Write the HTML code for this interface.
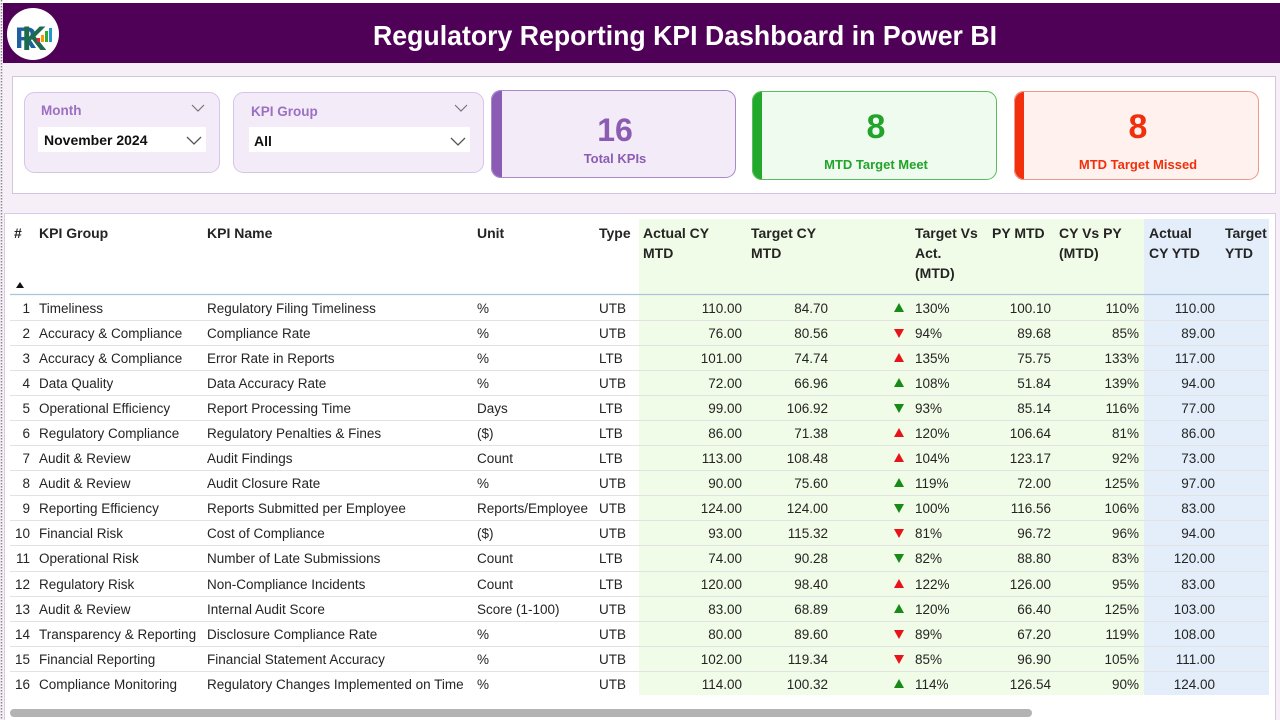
<!DOCTYPE html>
<html><head><meta charset="utf-8">
<style>
html,body{margin:0;padding:0;width:1280px;height:720px;overflow:hidden;background:#fff;}
svg{display:block;}
text{font-family:"Liberation Sans",Arial,sans-serif;}
.h{font-size:14px;font-weight:bold;fill:#252423;}
.b{font-size:13.5px;fill:#252423;}
</style></head><body>
<svg width="1280" height="720" viewBox="0 0 1280 720" xmlns="http://www.w3.org/2000/svg">
<rect x="0" y="0" width="1280" height="720" fill="#f6eff8"/>
<rect x="0" y="0" width="1280" height="3" fill="#ffffff"/>
<line x1="1.5" y1="0" x2="1.5" y2="720" stroke="#8a8a8a" stroke-width="1.5" stroke-dasharray="1.5,1.5"/>
<!-- header -->
<rect x="3" y="3" width="1277" height="60" fill="#4f0158"/>
<circle cx="33" cy="34" r="26" fill="#ffffff"/>
<text x="15" y="48" font-size="30" font-weight="bold" fill="#1f5fa0" font-family="Liberation Serif,serif">R</text>
<text x="22" y="50" font-size="34" font-weight="bold" fill="#1d6b4a" font-family="Liberation Serif,serif">K</text>
<rect x="37" y="38" width="3" height="4" fill="#e23"/><rect x="41" y="35" width="3" height="7" fill="#f90"/><rect x="45" y="31" width="3" height="11" fill="#3a3"/><rect x="49" y="28" width="3" height="14" fill="#29c"/>
<text x="373" y="45" font-size="28" font-weight="bold" fill="#ffffff" textLength="624" lengthAdjust="spacingAndGlyphs">Regulatory Reporting KPI Dashboard in Power BI</text>

<!-- filter panel -->
<rect x="12.5" y="76.5" width="1263" height="117" fill="#ffffff" stroke="#d6c3e2" stroke-width="1"/>
<!-- Month slicer -->
<rect x="24.5" y="92.5" width="195" height="80" rx="10" fill="#f3ebf8" stroke="#d7c4e6"/>
<text x="41" y="115" font-size="13.5" font-weight="bold" fill="#9b70c2">Month</text>
<polyline points="192,105 198,111 204,105" fill="none" stroke="#777" stroke-width="1.2"/>
<rect x="38" y="127" width="168" height="25" fill="#ffffff"/>
<text x="44" y="145" font-size="14" font-weight="bold" fill="#111">November 2024</text>
<polyline points="187,137 194,144 201,137" fill="none" stroke="#555" stroke-width="1.3"/>
<!-- KPI Group slicer -->
<rect x="233.5" y="92.5" width="250" height="80" rx="10" fill="#f3ebf8" stroke="#d7c4e6"/>
<text x="251" y="116" font-size="13.5" font-weight="bold" fill="#9b70c2">KPI Group</text>
<polyline points="455,105 461,111 467,105" fill="none" stroke="#777" stroke-width="1.2"/>
<rect x="249" y="127" width="221" height="25" fill="#ffffff"/>
<text x="254" y="146" font-size="14" font-weight="bold" fill="#111">All</text>
<polyline points="451,138 458,145 465,138" fill="none" stroke="#555" stroke-width="1.3"/>

<!-- Card 1 -->
<clipPath id="c1"><rect x="491" y="90" width="245" height="88" rx="10"/></clipPath>
<g clip-path="url(#c1)"><rect x="491" y="90" width="245" height="88" fill="#f3ecf8"/><rect x="491" y="90" width="11" height="88" fill="#8b5cb5"/></g>
<rect x="491.5" y="90.5" width="244" height="87" rx="10" fill="none" stroke="#a98ac8"/>
<text x="615" y="141" font-size="32" font-weight="bold" fill="#8a5db2" text-anchor="middle">16</text>
<text x="615" y="163" font-size="13" font-weight="bold" fill="#8a5db2" text-anchor="middle">Total KPIs</text>
<!-- Card 2 -->
<clipPath id="c2"><rect x="752" y="91" width="245" height="89" rx="10"/></clipPath>
<g clip-path="url(#c2)"><rect x="752" y="91" width="245" height="89" fill="#effbee"/><rect x="752" y="91" width="10" height="89" fill="#22a82a"/></g>
<rect x="752.5" y="91.5" width="244" height="88" rx="10" fill="none" stroke="#5dbb5f"/>
<text x="876" y="138" font-size="34" font-weight="bold" fill="#22a32a" text-anchor="middle">8</text>
<text x="876" y="169" font-size="13" font-weight="bold" fill="#22a32a" text-anchor="middle">MTD Target Meet</text>
<!-- Card 3 -->
<clipPath id="c3"><rect x="1014" y="91" width="245" height="89" rx="10"/></clipPath>
<g clip-path="url(#c3)"><rect x="1014" y="91" width="245" height="89" fill="#fff1ee"/><rect x="1014" y="91" width="10" height="89" fill="#f2300d"/></g>
<rect x="1014.5" y="91.5" width="244" height="88" rx="10" fill="none" stroke="#ec9a8b"/>
<text x="1138" y="138" font-size="34" font-weight="bold" fill="#f0300c" text-anchor="middle">8</text>
<text x="1138" y="169" font-size="13" font-weight="bold" fill="#f0300c" text-anchor="middle">MTD Target Missed</text>

<!-- table panel -->
<rect x="4.5" y="213.5" width="1271" height="510" fill="#ffffff" stroke="#dcc8e6"/>
<rect x="639" y="219" width="505" height="476" fill="#f0fbe8"/>
<rect x="1144" y="219" width="125" height="476" fill="#e3eefa"/>

<!-- headers -->
<g class="h">
<text x="14" y="238" class="h">#</text>
<text x="39" y="238" class="h">KPI Group</text>
<text x="207" y="238" class="h">KPI Name</text>
<text x="477" y="238" class="h">Unit</text>
<text x="599" y="238" class="h">Type</text>
<text x="643" y="238" class="h">Actual CY</text><text x="643" y="258" class="h">MTD</text>
<text x="751" y="238" class="h">Target CY</text><text x="751" y="258" class="h">MTD</text>
<text x="915" y="238" class="h">Target Vs</text><text x="915" y="258" class="h">Act.</text><text x="915" y="278" class="h">(MTD)</text>
<text x="992" y="238" class="h">PY MTD</text>
<text x="1059" y="238" class="h">CY Vs PY</text><text x="1059" y="258" class="h">(MTD)</text>
<text x="1149" y="238" class="h">Actual</text><text x="1149" y="258" class="h">CY YTD</text>
<text x="1225" y="238" class="h">Target</text><text x="1225" y="258" class="h">YTD</text>
</g>
<polygon points="16,288 24,288 20,282" fill="#111"/>
<line x1="10" y1="294.5" x2="1269" y2="294.5" stroke="#a9c6d8" stroke-width="1.2"/>

<!-- row separators -->
<g stroke="#e2e2e2" stroke-width="1">
<line x1="10" y1="320.5" x2="1269" y2="320.5"/>
<line x1="10" y1="345.5" x2="1269" y2="345.5"/>
<line x1="10" y1="370.5" x2="1269" y2="370.5"/>
<line x1="10" y1="395.5" x2="1269" y2="395.5"/>
<line x1="10" y1="420.5" x2="1269" y2="420.5"/>
<line x1="10" y1="445.5" x2="1269" y2="445.5"/>
<line x1="10" y1="470.5" x2="1269" y2="470.5"/>
<line x1="10" y1="495.5" x2="1269" y2="495.5"/>
<line x1="10" y1="520.5" x2="1269" y2="520.5"/>
<line x1="10" y1="545.5" x2="1269" y2="545.5"/>
<line x1="10" y1="571.5" x2="1269" y2="571.5"/>
<line x1="10" y1="596.5" x2="1269" y2="596.5"/>
<line x1="10" y1="621.5" x2="1269" y2="621.5"/>
<line x1="10" y1="646.5" x2="1269" y2="646.5"/>
<line x1="10" y1="671.5" x2="1269" y2="671.5"/>
</g>

<!-- rows -->
<g class="b">
<!-- 1 -->
<text x="30" y="313" text-anchor="end" class="b">1</text><text x="39" y="313" class="b">Timeliness</text><text x="207" y="313" class="b">Regulatory Filing Timeliness</text><text x="477" y="313" class="b">%</text><text x="599" y="313" class="b">UTB</text>
<text x="742" y="313" text-anchor="end" class="b">110.00</text><text x="828" y="313" text-anchor="end" class="b">84.70</text><text x="915" y="313" class="b">130%</text><text x="1051" y="313" text-anchor="end" class="b">100.10</text><text x="1139" y="313" text-anchor="end" class="b">110%</text><text x="1215" y="313" text-anchor="end" class="b">110.00</text>
<!-- 2 -->
<text x="30" y="338" text-anchor="end" class="b">2</text><text x="39" y="338" class="b">Accuracy &amp; Compliance</text><text x="207" y="338" class="b">Compliance Rate</text><text x="477" y="338" class="b">%</text><text x="599" y="338" class="b">UTB</text>
<text x="742" y="338" text-anchor="end" class="b">76.00</text><text x="828" y="338" text-anchor="end" class="b">80.56</text><text x="915" y="338" class="b">94%</text><text x="1051" y="338" text-anchor="end" class="b">89.68</text><text x="1139" y="338" text-anchor="end" class="b">85%</text><text x="1215" y="338" text-anchor="end" class="b">89.00</text>
<!-- 3 -->
<text x="30" y="363" text-anchor="end" class="b">3</text><text x="39" y="363" class="b">Accuracy &amp; Compliance</text><text x="207" y="363" class="b">Error Rate in Reports</text><text x="477" y="363" class="b">%</text><text x="599" y="363" class="b">LTB</text>
<text x="742" y="363" text-anchor="end" class="b">101.00</text><text x="828" y="363" text-anchor="end" class="b">74.74</text><text x="915" y="363" class="b">135%</text><text x="1051" y="363" text-anchor="end" class="b">75.75</text><text x="1139" y="363" text-anchor="end" class="b">133%</text><text x="1215" y="363" text-anchor="end" class="b">117.00</text>
<!-- 4 -->
<text x="30" y="388" text-anchor="end" class="b">4</text><text x="39" y="388" class="b">Data Quality</text><text x="207" y="388" class="b">Data Accuracy Rate</text><text x="477" y="388" class="b">%</text><text x="599" y="388" class="b">UTB</text>
<text x="742" y="388" text-anchor="end" class="b">72.00</text><text x="828" y="388" text-anchor="end" class="b">66.96</text><text x="915" y="388" class="b">108%</text><text x="1051" y="388" text-anchor="end" class="b">51.84</text><text x="1139" y="388" text-anchor="end" class="b">139%</text><text x="1215" y="388" text-anchor="end" class="b">94.00</text>
<!-- 5 -->
<text x="30" y="413" text-anchor="end" class="b">5</text><text x="39" y="413" class="b">Operational Efficiency</text><text x="207" y="413" class="b">Report Processing Time</text><text x="477" y="413" class="b">Days</text><text x="599" y="413" class="b">LTB</text>
<text x="742" y="413" text-anchor="end" class="b">99.00</text><text x="828" y="413" text-anchor="end" class="b">106.92</text><text x="915" y="413" class="b">93%</text><text x="1051" y="413" text-anchor="end" class="b">85.14</text><text x="1139" y="413" text-anchor="end" class="b">116%</text><text x="1215" y="413" text-anchor="end" class="b">77.00</text>
<!-- 6 -->
<text x="30" y="438" text-anchor="end" class="b">6</text><text x="39" y="438" class="b">Regulatory Compliance</text><text x="207" y="438" class="b">Regulatory Penalties &amp; Fines</text><text x="477" y="438" class="b">($)</text><text x="599" y="438" class="b">LTB</text>
<text x="742" y="438" text-anchor="end" class="b">86.00</text><text x="828" y="438" text-anchor="end" class="b">71.38</text><text x="915" y="438" class="b">120%</text><text x="1051" y="438" text-anchor="end" class="b">106.64</text><text x="1139" y="438" text-anchor="end" class="b">81%</text><text x="1215" y="438" text-anchor="end" class="b">86.00</text>
<!-- 7 -->
<text x="30" y="463" text-anchor="end" class="b">7</text><text x="39" y="463" class="b">Audit &amp; Review</text><text x="207" y="463" class="b">Audit Findings</text><text x="477" y="463" class="b">Count</text><text x="599" y="463" class="b">LTB</text>
<text x="742" y="463" text-anchor="end" class="b">113.00</text><text x="828" y="463" text-anchor="end" class="b">108.48</text><text x="915" y="463" class="b">104%</text><text x="1051" y="463" text-anchor="end" class="b">123.17</text><text x="1139" y="463" text-anchor="end" class="b">92%</text><text x="1215" y="463" text-anchor="end" class="b">73.00</text>
<!-- 8 -->
<text x="30" y="488" text-anchor="end" class="b">8</text><text x="39" y="488" class="b">Audit &amp; Review</text><text x="207" y="488" class="b">Audit Closure Rate</text><text x="477" y="488" class="b">%</text><text x="599" y="488" class="b">UTB</text>
<text x="742" y="488" text-anchor="end" class="b">90.00</text><text x="828" y="488" text-anchor="end" class="b">75.60</text><text x="915" y="488" class="b">119%</text><text x="1051" y="488" text-anchor="end" class="b">72.00</text><text x="1139" y="488" text-anchor="end" class="b">125%</text><text x="1215" y="488" text-anchor="end" class="b">97.00</text>
<!-- 9 -->
<text x="30" y="513" text-anchor="end" class="b">9</text><text x="39" y="513" class="b">Reporting Efficiency</text><text x="207" y="513" class="b">Reports Submitted per Employee</text><text x="477" y="513" class="b">Reports/Employee</text><text x="599" y="513" class="b">UTB</text>
<text x="742" y="513" text-anchor="end" class="b">124.00</text><text x="828" y="513" text-anchor="end" class="b">124.00</text><text x="915" y="513" class="b">100%</text><text x="1051" y="513" text-anchor="end" class="b">116.56</text><text x="1139" y="513" text-anchor="end" class="b">106%</text><text x="1215" y="513" text-anchor="end" class="b">83.00</text>
<!-- 10 -->
<text x="30" y="538" text-anchor="end" class="b">10</text><text x="39" y="538" class="b">Financial Risk</text><text x="207" y="538" class="b">Cost of Compliance</text><text x="477" y="538" class="b">($)</text><text x="599" y="538" class="b">UTB</text>
<text x="742" y="538" text-anchor="end" class="b">93.00</text><text x="828" y="538" text-anchor="end" class="b">115.32</text><text x="915" y="538" class="b">81%</text><text x="1051" y="538" text-anchor="end" class="b">96.72</text><text x="1139" y="538" text-anchor="end" class="b">96%</text><text x="1215" y="538" text-anchor="end" class="b">94.00</text>
<!-- 11 -->
<text x="30" y="563" text-anchor="end" class="b">11</text><text x="39" y="563" class="b">Operational Risk</text><text x="207" y="563" class="b">Number of Late Submissions</text><text x="477" y="563" class="b">Count</text><text x="599" y="563" class="b">LTB</text>
<text x="742" y="563" text-anchor="end" class="b">74.00</text><text x="828" y="563" text-anchor="end" class="b">90.28</text><text x="915" y="563" class="b">82%</text><text x="1051" y="563" text-anchor="end" class="b">88.80</text><text x="1139" y="563" text-anchor="end" class="b">83%</text><text x="1215" y="563" text-anchor="end" class="b">120.00</text>
<!-- 12 -->
<text x="30" y="589" text-anchor="end" class="b">12</text><text x="39" y="589" class="b">Regulatory Risk</text><text x="207" y="589" class="b">Non-Compliance Incidents</text><text x="477" y="589" class="b">Count</text><text x="599" y="589" class="b">LTB</text>
<text x="742" y="589" text-anchor="end" class="b">120.00</text><text x="828" y="589" text-anchor="end" class="b">98.40</text><text x="915" y="589" class="b">122%</text><text x="1051" y="589" text-anchor="end" class="b">126.00</text><text x="1139" y="589" text-anchor="end" class="b">95%</text><text x="1215" y="589" text-anchor="end" class="b">83.00</text>
<!-- 13 -->
<text x="30" y="614" text-anchor="end" class="b">13</text><text x="39" y="614" class="b">Audit &amp; Review</text><text x="207" y="614" class="b">Internal Audit Score</text><text x="477" y="614" class="b">Score (1-100)</text><text x="599" y="614" class="b">UTB</text>
<text x="742" y="614" text-anchor="end" class="b">83.00</text><text x="828" y="614" text-anchor="end" class="b">68.89</text><text x="915" y="614" class="b">120%</text><text x="1051" y="614" text-anchor="end" class="b">66.40</text><text x="1139" y="614" text-anchor="end" class="b">125%</text><text x="1215" y="614" text-anchor="end" class="b">103.00</text>
<!-- 14 -->
<text x="30" y="639" text-anchor="end" class="b">14</text><text x="39" y="639" class="b">Transparency &amp; Reporting</text><text x="207" y="639" class="b">Disclosure Compliance Rate</text><text x="477" y="639" class="b">%</text><text x="599" y="639" class="b">UTB</text>
<text x="742" y="639" text-anchor="end" class="b">80.00</text><text x="828" y="639" text-anchor="end" class="b">89.60</text><text x="915" y="639" class="b">89%</text><text x="1051" y="639" text-anchor="end" class="b">67.20</text><text x="1139" y="639" text-anchor="end" class="b">119%</text><text x="1215" y="639" text-anchor="end" class="b">108.00</text>
<!-- 15 -->
<text x="30" y="664" text-anchor="end" class="b">15</text><text x="39" y="664" class="b">Financial Reporting</text><text x="207" y="664" class="b">Financial Statement Accuracy</text><text x="477" y="664" class="b">%</text><text x="599" y="664" class="b">UTB</text>
<text x="742" y="664" text-anchor="end" class="b">102.00</text><text x="828" y="664" text-anchor="end" class="b">119.34</text><text x="915" y="664" class="b">85%</text><text x="1051" y="664" text-anchor="end" class="b">96.90</text><text x="1139" y="664" text-anchor="end" class="b">105%</text><text x="1215" y="664" text-anchor="end" class="b">111.00</text>
<!-- 16 -->
<text x="30" y="689" text-anchor="end" class="b">16</text><text x="39" y="689" class="b">Compliance Monitoring</text><text x="207" y="689" class="b">Regulatory Changes Implemented on Time</text><text x="477" y="689" class="b">%</text><text x="599" y="689" class="b">UTB</text>
<text x="742" y="689" text-anchor="end" class="b">114.00</text><text x="828" y="689" text-anchor="end" class="b">100.32</text><text x="915" y="689" class="b">114%</text><text x="1051" y="689" text-anchor="end" class="b">126.54</text><text x="1139" y="689" text-anchor="end" class="b">90%</text><text x="1215" y="689" text-anchor="end" class="b">124.00</text>
</g>

<!-- triangles: up = points (894,c+4)(904,c+4)(899,c-5); down = (894,c-4)(904,c-4)(899,c+5) -->
<g>
<polygon points="894,312 904,312 899,303" fill="#178a17"/>
<polygon points="894,329 904,329 899,338" fill="#e8141a"/>
<polygon points="894,362 904,362 899,353" fill="#e8141a"/>
<polygon points="894,387 904,387 899,378" fill="#178a17"/>
<polygon points="894,404 904,404 899,413" fill="#178a17"/>
<polygon points="894,437 904,437 899,428" fill="#e8141a"/>
<polygon points="894,462 904,462 899,453" fill="#e8141a"/>
<polygon points="894,487 904,487 899,478" fill="#178a17"/>
<polygon points="894,504 904,504 899,513" fill="#178a17"/>
<polygon points="894,529 904,529 899,538" fill="#e8141a"/>
<polygon points="894,554 904,554 899,563" fill="#178a17"/>
<polygon points="894,588 904,588 899,579" fill="#e8141a"/>
<polygon points="894,613 904,613 899,604" fill="#178a17"/>
<polygon points="894,630 904,630 899,639" fill="#e8141a"/>
<polygon points="894,655 904,655 899,664" fill="#e8141a"/>
<polygon points="894,688 904,688 899,679" fill="#178a17"/>
</g>

<!-- scrollbar -->
<rect x="10" y="709" width="1022" height="8" rx="4" fill="#b3b3b3"/>
</svg>
</body></html>
